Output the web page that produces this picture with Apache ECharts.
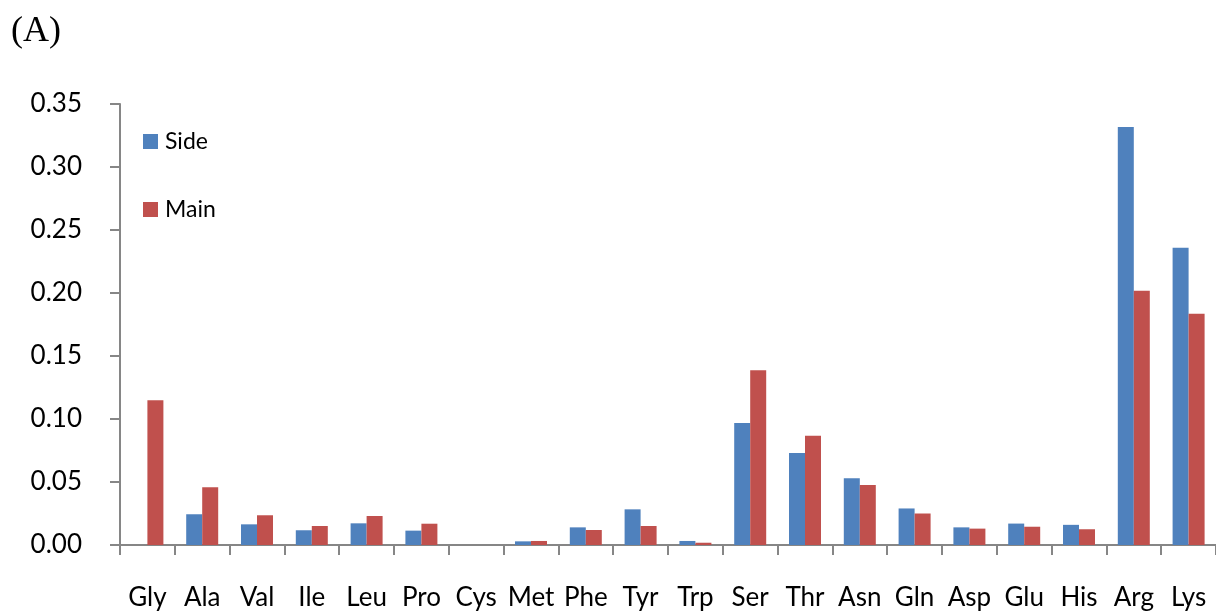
<!DOCTYPE html>
<html>
<head>
<meta charset="utf-8">
<script src="https://cdn.jsdelivr.net/npm/echarts@6/dist/echarts.min.js"></script>
<style>
  html, body { margin: 0; padding: 0; background: #fff; }
  #chart { width: 1216px; height: 613px; }
</style>
</head>
<body>
<div id="chart"></div>
<script>
// Amino acid categories along the x axis
const categories = ['Gly', 'Ala', 'Val', 'Ile', 'Leu', 'Pro', 'Cys', 'Met', 'Phe', 'Tyr',
                    'Trp', 'Ser', 'Thr', 'Asn', 'Gln', 'Asp', 'Glu', 'His', 'Arg', 'Lys'];

// Fractions per residue type
const sideValues = [0.000, 0.0244, 0.0164, 0.0117, 0.0172, 0.0114, 0.000, 0.0029, 0.0140, 0.0283,
                    0.0032, 0.0968, 0.0730, 0.0529, 0.0290, 0.0140, 0.0170, 0.0160, 0.3318, 0.2360];
const mainValues = [0.1148, 0.0458, 0.0236, 0.0151, 0.0230, 0.0169, 0.000, 0.0032, 0.0119, 0.0151,
                    0.0018, 0.1386, 0.0867, 0.0476, 0.0250, 0.0130, 0.0145, 0.0125, 0.2017, 0.1836];

const yTicks = { min: 0, max: 0.35, interval: 0.05 };

const axisGray = '#868686';
const labelFont = 'Lato, "Open Sans", "Noto Sans", sans-serif';

const chart = echarts.init(document.getElementById('chart'), null, { renderer: 'canvas' });
chart.setOption({
  animation: false,
  backgroundColor: '#ffffff',
  title: {
    text: '(A)',
    left: 11,
    top: 14,
    padding: 0,
    textStyle: {
      fontFamily: '"Liberation Serif", "DejaVu Serif", serif',
      fontWeight: 'normal',
      fontSize: 36,
      color: '#000'
    }
  },
  legend: {
    orient: 'vertical',
    left: 143,
    top: 130,
    padding: 0,
    itemWidth: 15,
    itemHeight: 15,
    itemGap: 45,
    icon: 'rect',
    textStyle: { fontFamily: labelFont, fontSize: 23, lineHeight: 15, color: '#000', padding: [0, 0, 0, 2] },
    data: ['Side', 'Main']
  },
  grid: { left: 120, right: -3, top: 104, bottom: 68, containLabel: false },
  xAxis: {
    type: 'category',
    data: categories,
    axisLine: { lineStyle: { color: axisGray, width: 2 } },
    axisTick: { show: true, length: 10, lineStyle: { color: axisGray, width: 2 } },
    axisLabel: {
      interval: 0,
      margin: 40,
      fontFamily: labelFont,
      fontSize: 26,
      color: '#000'
    },
    splitLine: { show: false }
  },
  yAxis: {
    type: 'value',
    min: yTicks.min,
    max: yTicks.max,
    interval: yTicks.interval,
    axisLine: { show: true, lineStyle: { color: axisGray, width: 2 } },
    axisTick: { show: true, length: 10, lineStyle: { color: axisGray, width: 2 } },
    axisLabel: {
      margin: 38,
      fontFamily: labelFont,
      fontSize: 26,
      color: '#000',
      formatter: v => v.toFixed(2)
    },
    splitLine: { show: false }
  },
  series: [
    {
      name: 'Side',
      type: 'bar',
      data: sideValues,
      barWidth: 16,
      barGap: '0%',
      itemStyle: { color: '#4f81bd' }
    },
    {
      name: 'Main',
      type: 'bar',
      data: mainValues,
      barWidth: 16,
      barGap: '0%',
      itemStyle: { color: '#c0504d' }
    }
  ]
});
</script>
</body>
</html>
